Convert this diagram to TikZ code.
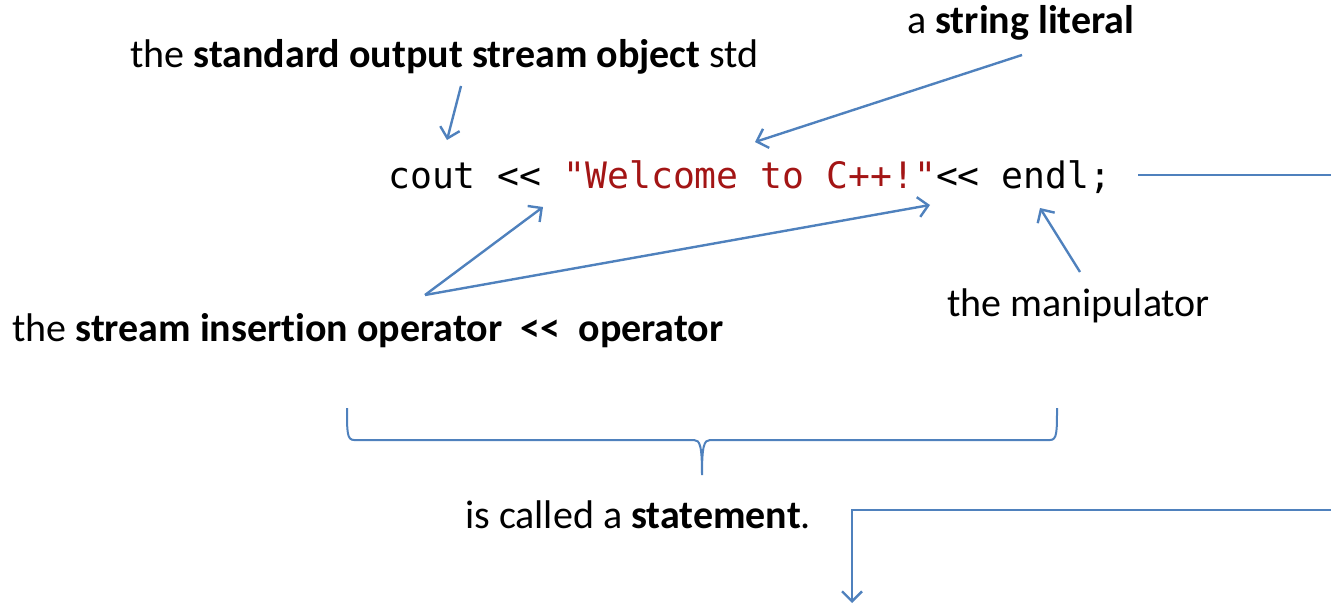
\documentclass[tikz,border=0pt]{standalone}
\usepackage{fontspec}
\setmainfont{Carlito}[Ligatures=NoCommon]
\setmonofont{DejaVu Sans Mono}
\usetikzlibrary{arrows.meta}
\definecolor{myblue}{RGB}{79,129,189}
\definecolor{strred}{RGB}{163,21,21}
\tikzset{
    lbl/.style={
           inner sep=0pt,
           anchor=base west,
           font=\fontsize{40}{48}\selectfont,
           },
    pointer/.style={
           draw=myblue, line width=2.4pt,
           -{Straight Barb[length=10pt,width=20pt,line width=2.4pt]},
           },
}
\newcommand{\term}[1]{\textbf{#1}}
\newcommand{\str}[1]{\textcolor{strred}{#1}}

\begin{document}
\begin{tikzpicture}[x=1pt, y=-1pt]
  \useasboundingbox (0,0) rectangle (1331,605);
  % labels
  \node[lbl] (stdobj) at (130, 67) {the \term{standard output stream object} std};
  \node[lbl] (strlit) at (907, 33) {a \term{string literal}};
  \node[lbl, font=\fontsize{36.4}{44}\ttfamily] (code) at (388, 188)
       {cout << \str{"Welcome to C++!"}<< endl;};
  \node[lbl] (insop) at (12, 341) {the \term{stream insertion operator \ <\kern0pt< \ operator}};
  \node[lbl] (manip) at (947, 316) {the manipulator};
  \node[lbl] (stmt) at (465, 528) {is called a \term{statement}.};
  % arrow ends
  \coordinate (stdfrom) at (461, 86);
  \coordinate (stdto)   at (447,140);
  \coordinate (strfrom) at (1022, 55);
  \coordinate (strto)   at (755,142);
  \coordinate (insfrom) at (425,295);
  \coordinate (insto1)  at (543,207);
  \coordinate (insto2)  at (930,205);
  \coordinate (manfrom) at (1080,272);
  \coordinate (manto)   at (1040,208);
  \coordinate (codeout) at (1138,175);
  \coordinate (edgeA)   at (1331,175);
  \coordinate (edgeB)   at (1331,510);
  \coordinate (bend)    at (852,510);
  \coordinate (down)    at (852,603);
  \draw[pointer] (stdfrom) -- (stdto);
  \draw[pointer] (strfrom) -- (strto);
  \draw[pointer] (insfrom) -- (insto1);
  \draw[pointer] (insfrom) -- (insto2);
  \draw[pointer] (manfrom) -- (manto);
  \draw[myblue, line width=2.4pt] (codeout) -- (edgeA);
  \draw[pointer] (edgeB) -- (bend) -- (down);
  % brace under the statement
  \draw[myblue, line width=2pt] (347,408) .. controls (347,432) and (347,440) .. (354,440)
       -- (694,440) .. controls (700,440) and (702,446) .. (702,475)
       .. controls (702,446) and (704,440) .. (710,440)
       -- (1050,440) .. controls (1057,440) and (1057,432) .. (1057,408);
\end{tikzpicture}
\end{document}
